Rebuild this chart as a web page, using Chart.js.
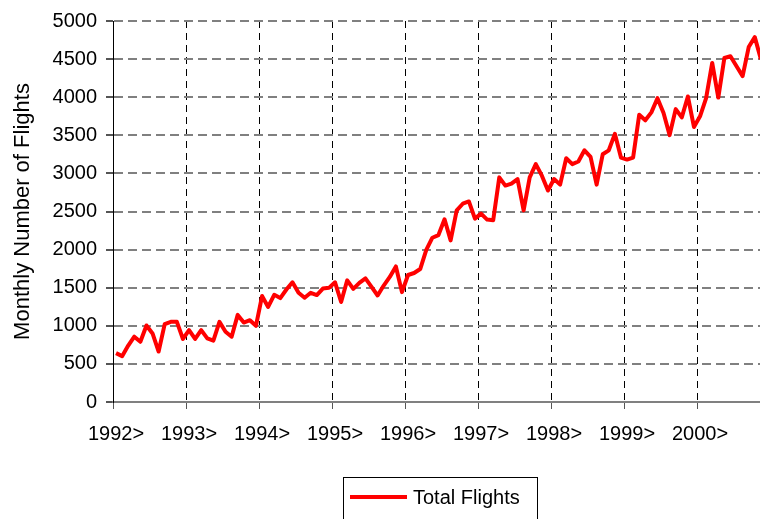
<!DOCTYPE html>
<html><head><meta charset="utf-8">
<script src="https://cdn.jsdelivr.net/npm/chart.js@4.4.1/dist/chart.umd.min.js"></script>
<style>
html,body{margin:0;padding:0;background:#fff;overflow:hidden;width:760px;height:519px}
#wrap{width:880px;height:540px;position:absolute;left:0;top:0}
</style></head><body>
<div id="wrap"><canvas id="c" width="880" height="540"></canvas></div>
<script>
// ---- data ----
const yearLabels = ['1992>', '1993>', '1994>', '1995>', '1996>', '1997>', '1998>', '1999>', '2000>'];
const flights1992 = [641, 602, 740, 857, 790, 1004, 900, 662, 1022, 1052, 1052, 827];
const flights1993 = [944, 827, 944, 835, 805, 1052, 922, 857, 1143, 1043, 1074, 1000];
const flights1994 = [1390, 1247, 1407, 1364, 1476, 1571, 1433, 1368, 1433, 1403, 1489, 1498];
const flights1995 = [1571, 1312, 1597, 1485, 1563, 1623, 1511, 1398, 1528, 1641, 1779, 1442];
const flights1996 = [1667, 1693, 1745, 1996, 2156, 2191, 2398, 2121, 2515, 2602, 2632, 2407];
const flights1997 = [2472, 2394, 2385, 2948, 2840, 2866, 2926, 2515, 2948, 3121, 2970, 2775];
const flights1998 = [2926, 2853, 3199, 3121, 3156, 3303, 3216, 2853, 3251, 3303, 3519, 3208];
const flights1999 = [3182, 3208, 3770, 3697, 3801, 3987, 3792, 3502, 3844, 3736, 4009, 3610];
const flights2000 = [3749, 3987, 4450, 3995, 4515, 4537, 4407, 4277, 4658, 4788, 4500];
const seriesName = 'Total Flights';
const axisTitle = 'Monthly Number of Flights';
const yMin = 0, yMax = 5000, yStep = 500;
const monthsPerYear = 12;

const totalFlights = [].concat(flights1992, flights1993, flights1994, flights1995,
  flights1996, flights1997, flights1998, flights1999, flights2000);
const points = totalFlights.map((v, i) => ({ x: i, y: v }));
const nMonths = yearLabels.length * monthsPerYear;
const xTickValues = [];
for (let k = 0; k <= yearLabels.length; k++) xTickValues.push(k * monthsPerYear - 0.5);

const FONT = '"Liberation Sans", Arial, Helvetica, sans-serif';

const legendBox = {
  id: 'legendBox',
  afterDraw(chart) {
    const ctx = chart.ctx;
    const cx = chart.width / 2;
    ctx.save();
    ctx.strokeStyle = '#000';
    ctx.lineWidth = 1;
    ctx.strokeRect(Math.round(cx - 97) + 0.5, 477.5, 194, 60);
    ctx.strokeStyle = '#ff0000';
    ctx.lineWidth = 4;
    ctx.beginPath();
    ctx.moveTo(cx - 90, 497);
    ctx.lineTo(cx - 33, 497);
    ctx.stroke();
    ctx.fillStyle = '#000';
    ctx.font = '20px ' + FONT;
    ctx.textBaseline = 'middle';
    ctx.textAlign = 'left';
    ctx.fillText(chart.data.datasets[0].label, cx - 27, 498);
    ctx.restore();
  }
};

new Chart(document.getElementById('c'), {
  type: 'line',
  data: {
    datasets: [{
      label: seriesName,
      data: points,
      borderColor: '#ff0000',
      backgroundColor: '#ff0000',
      borderWidth: 4,
      pointRadius: 0,
      tension: 0,
      fill: false,
      borderJoinStyle: 'round'
    }]
  },
  options: {
    responsive: false,
    animation: false,
    devicePixelRatio: 1,
    layout: { padding: { top: 17, right: 110, bottom: 0, left: 0 } },
    plugins: { legend: { display: false }, tooltip: { enabled: false } },
    scales: {
      x: {
        type: 'linear',
        position: 'bottom',
        min: -0.5,
        max: nMonths - 0.5,
        afterBuildTicks: (s) => { s.ticks = xTickValues.map(v => ({ value: v })); },
        afterFit: (s) => { s.height = 138; },
        grid: {
          color: '#000', lineWidth: 1,
          drawTicks: true, tickLength: 7, tickColor: '#555', tickBorderDash: []
        },
        border: { display: true, color: '#808080', width: 2, dash: [7, 5] },
        ticks: {
          autoSkip: false, maxRotation: 0, minRotation: 0, padding: 13, labelOffset: 3,
          color: '#000', font: { family: FONT, size: 20 },
          callback: (v, i) => yearLabels[i] !== undefined ? yearLabels[i] : ''
        }
      },
      y: {
        min: yMin, max: yMax,
        afterFit: (s) => { s.width = 113; },
        grid: {
          color: '#808080', lineWidth: 2,
          drawTicks: true, tickLength: 7, tickColor: '#555', tickBorderDash: []
        },
        border: { display: true, color: '#000', width: 1, dash: [9, 5] },
        ticks: {
          stepSize: yStep, padding: 9, color: '#000',
          font: { family: FONT, size: 20 },
          callback: (v) => String(v)
        },
        title: {
          display: true, text: axisTitle, color: '#000',
          font: { family: FONT, size: 22 },
          padding: { top: 10, bottom: 0 }
        }
      }
    }
  },
  plugins: [legendBox]
});
</script>
</body></html>
